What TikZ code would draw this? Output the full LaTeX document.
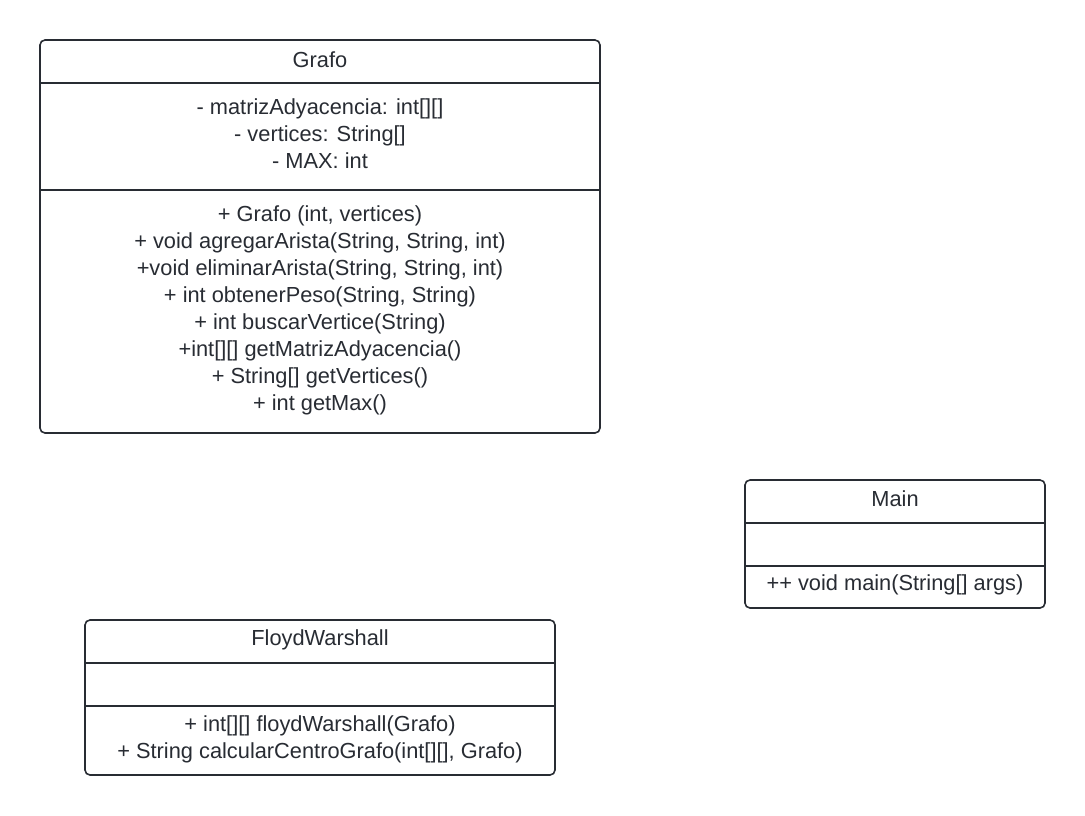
\documentclass[tikz,border=0pt]{standalone}
\usepackage{fontspec}
\setmainfont{Liberation Sans}
\definecolor{ink}{HTML}{282C33}
\begin{document}
\begin{tikzpicture}[x=1pt,y=-1pt,
  umlbox/.style={draw=ink, line width=1.6pt, rounded corners=5pt, inner sep=0pt, fill=white},
  umltext/.style={text=ink, font=\fontsize{21.8}{27}\selectfont, align=center, inner sep=0pt},
  divider/.style={draw=ink, line width=1.6pt}]
\useasboundingbox (0,0) rectangle (1085,815);
% Grafo
\node[umlbox, minimum width=560pt, minimum height=393pt] (grafo) at (320,236.5) {};
\coordinate (g1l) at (40,83); \coordinate (g1r) at (600,83);
\coordinate (g2l) at (40,190); \coordinate (g2r) at (600,190);
\draw[divider] (g1l) -- (g1r);
\draw[divider] (g2l) -- (g2r);
\node[umltext] (grafoTitle) at (320,60) {Grafo};
\node[umltext] (grafoAttr) at (320,134) {- matrizAdyacencia: int[][]\\- vertices: String[]\\- MAX: int};
\node[umltext] (grafoOps) at (320,310) {+ Grafo (int, vertices)\\+ void agregarArista(String, String, int)\\+void eliminarArista(String, String, int)\\+ int obtenerPeso(String, String)\\+ int buscarVertice(String)\\+int[][] getMatrizAdyacencia()\\+ String[] getVertices()\\+ int getMax()};
% Main
\node[umlbox, minimum width=300pt, minimum height=128pt] (main) at (895,544) {};
\coordinate (m1l) at (745,523); \coordinate (m1r) at (1045,523);
\coordinate (m2l) at (745,566); \coordinate (m2r) at (1045,566);
\draw[divider] (m1l) -- (m1r);
\draw[divider] (m2l) -- (m2r);
\node[umltext] (mainTitle) at (895,499) {Main};
\node[umltext] (mainOps) at (895,585) {++ void main(String[] args)};
% FloydWarshall
\node[umlbox, minimum width=470pt, minimum height=155pt] (floyd) at (320,697.5) {};
\coordinate (f1l) at (85,663); \coordinate (f1r) at (555,663);
\coordinate (f2l) at (85,706); \coordinate (f2r) at (555,706);
\draw[divider] (f1l) -- (f1r);
\draw[divider] (f2l) -- (f2r);
\node[umltext] (floydTitle) at (320,640) {FloydWarshall};
\node[umltext] (floydOps) at (320,739.5) {+ int[][] floydWarshall(Grafo)\\+ String calcularCentroGrafo(int[][], Grafo)};
\end{tikzpicture}
\end{document}
